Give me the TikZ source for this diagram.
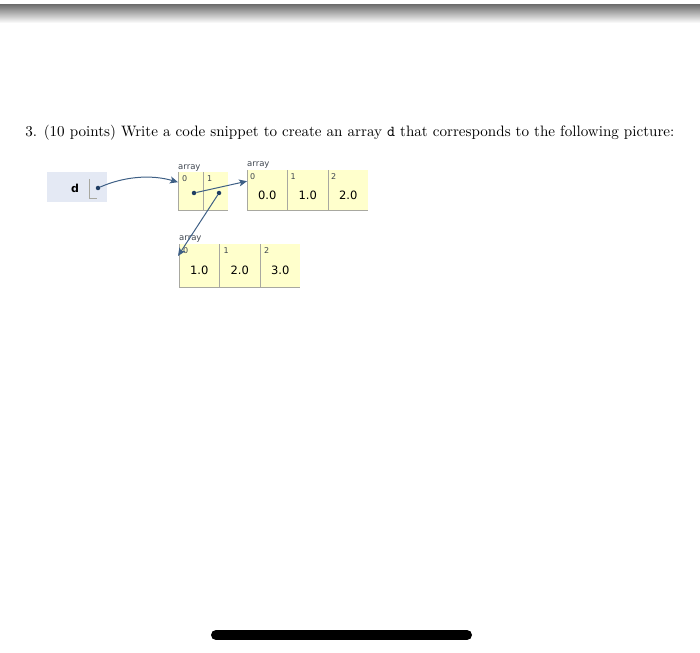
\documentclass[tikz,border=0pt]{standalone}
\usepackage{fontspec}
\usetikzlibrary{arrows.meta}
\newfontfamily\boxfont{DejaVu Sans}
\definecolor{cellyellow}{HTML}{FFFFCC}
\definecolor{varblue}{HTML}{E4E9F4}
\definecolor{refblue}{HTML}{3E5F85}
\definecolor{dotblue}{HTML}{1F3D63}
\definecolor{idxgray}{HTML}{3F4650}
\definecolor{linegray}{HTML}{A8A8A0}
\begin{document}
\begin{tikzpicture}[
        x=1pt, y=-1pt,
        cell/.style={rectangle, fill=cellyellow, inner sep=0pt, anchor=north west},
        ptrcell/.style={cell, minimum width=25pt, minimum height=38pt},
        valcell/.style={cell, minimum width=40pt, minimum height=40pt},
        idx/.style={anchor=north west, inner sep=0pt, font=\boxfont\fontsize{8}{9}\selectfont, text=idxgray},
        val/.style={inner sep=0pt, font=\boxfont\fontsize{11.5}{13}\selectfont},
        tag/.style={anchor=south west, inner sep=0pt, font=\boxfont\fontsize{8.5}{10}\selectfont, text=idxgray},
        dot/.style={circle, fill=dotblue, inner sep=0pt, minimum size=4.5pt},
        border/.style={draw=linegray, line width=0.7pt},
        ref/.style={-{Stealth[length=8pt,width=7pt,inset=2pt]}, draw=refblue, line width=1pt}
    ]
        \useasboundingbox (0,0) rectangle (700,652);

        % Top bar and bottom bar
        \shade[top color=black!55, bottom color=white] (0,5) rectangle (700,23);
        \draw[line width=10pt, line cap=round] (216,635) -- (467,635);

        % Question
        \node[anchor=west, inner sep=0pt, scale=1.51, font=\fontsize{10}{12}\selectfont] (Q) at (25,133)
            {3. (10 points) Write a code snippet to create an array \texttt{d} that corresponds to the following picture:};

        % Variable d
        \node[rectangle, fill=varblue, anchor=north west, minimum width=60pt, minimum height=30pt, inner sep=0pt] (D) at (47,172) {};
        \node[font=\boxfont\bfseries\fontsize{11}{12}\selectfont, inner sep=0pt] (Dname) at (75,188) {d};
        \draw[border, line width=0.5pt] (89,179) -- (89,198) -- (97,198);
        \node[dot] (Dd) at (98,188) {};

        % Array of references
        \foreach \i in {0,1} {
            \node[ptrcell] (A\i) at ({178+25*\i},172) {};
            \node[idx] at ([xshift=4pt,yshift=-3pt]A\i.north west) {\i};
        }
        \node[tag] (Atag) at ([yshift=1pt]A0.north west) {array};
        \draw[border] (A0.north west) -- (A0.south west) -- (A1.south east);
        \draw[border] (A0.north east) -- (A0.south east);
        \node[dot] (P0) at (194,193) {};
        \node[dot] (P1) at (219,193) {};

        % Array 0.0 1.0 2.0
        \foreach \i/\v in {0/0.0,1/1.0,2/2.0} {
            \node[valcell] (B\i) at ({247+40.5*\i},170) {};
            \node[idx] at ([xshift=3pt,yshift=-3pt]B\i.north west) {\i};
            \node[val] at ([yshift=-5pt]B\i.center) {\v};
        }
        \node[tag] (Btag) at ([yshift=2pt]B0.north west) {array};
        \draw[border] (B0.north west) -- (B0.south west) -- (B2.south east);
        \foreach \i in {0,1}
            \draw[border] (B\i.north east) -- (B\i.south east);

        % Array 1.0 2.0 3.0
        \foreach \i/\v in {0/1.0,1/2.0,2/3.0} {
            \node[valcell, minimum height=43pt] (C\i) at ({179+40.5*\i},244) {};
            \node[idx] at ([xshift=4pt,yshift=-3pt]C\i.north west) {\i};
            \node[val] at ([yshift=-5pt]C\i.center) {\v};
        }
        \node[tag] (Ctag) at ([yshift=2pt]C0.north west) {array};
        \draw[border] (C0.north west) -- (C0.south west) -- (C2.south east);
        \foreach \i in {0,1}
            \draw[border] (C\i.north east) -- (C\i.south east);

        % References
        \draw[ref] (Dd) .. controls (123,177) and (150,174) .. ([yshift=9pt]A0.west);
        \draw[ref] (P0) -- ([yshift=9pt]B0.west);
        \draw[ref] (P1) -- ([xshift=-1pt,yshift=-12pt]C0.north west);

    \end{tikzpicture}
\end{document}
